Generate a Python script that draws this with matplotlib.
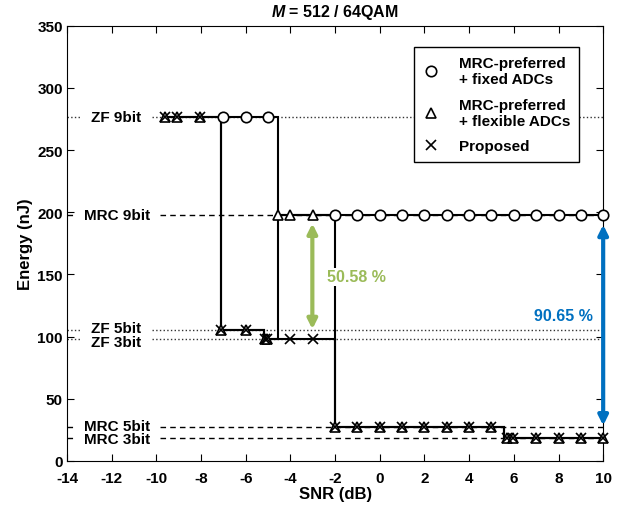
import matplotlib
matplotlib.use("Agg")
import matplotlib.pyplot as plt
from matplotlib.lines import Line2D

plt.rcParams["font.family"] = ["Liberation Sans", "DejaVu Sans"]
plt.rcParams["font.weight"] = "bold"
plt.rcParams["mathtext.fontset"] = "custom"
plt.rcParams["mathtext.it"] = "Liberation Sans:italic:bold"
plt.rcParams["axes.unicode_minus"] = False

# energy levels (nJ) of each receiver / ADC setting
level_names = ["ZF 9bit", "MRC 9bit", "ZF 5bit", "ZF 3bit", "MRC 5bit", "MRC 3bit"]
level_values = [277.0, 198.0, 105.5, 97.85, 27.2, 18.5]
level_styles = [":", "--", ":", ":", "--", "--"]

# step lines: switching SNRs (edges) and energy on each segment
fixed_edges = [-7.0, -4.54, 10.0]
fixed_energy = [277.0, 198.0]
flex_edges = [-9.6, -7.1, -5.17, -4.54, -2.0, 5.58, 10.0]
flex_energy = [277.0, 105.5, 97.85, 198.0, 27.2, 18.5]
prop_edges = [-9.6, -7.1, -5.17, -2.0, 5.58, 10.0]
prop_energy = [277.0, 105.5, 97.85, 27.2, 18.5]

# marker points
fixed_snr = [-7, -6, -5, -2, -1, 0, 1, 2, 3, 4, 5, 6, 7, 8, 9, 10]
fixed_pts = [277, 277, 277] + [198] * 13
flex_snr = [-9.6, -9.1, -8.04, -7.1, -6.0, -5.15, -5.05, -4.54, -4.0, -3.0,
            -2, -1, 0, 1, 2, 3, 4, 5, 5.68, 5.98, 7, 8, 9, 10]
flex_pts = [277] * 3 + [105.5] * 2 + [97.85] * 2 + [198] * 3 + [27.2] * 8 + [18.5] * 6
prop_snr = [-9.6, -9.1, -8.04, -7.1, -6.0, -5.15, -5.05, -4.0, -3.0,
            -2, -1, 0, 1, 2, 3, 4, 5, 5.68, 5.98, 7, 8, 9, 10]
prop_pts = [277] * 3 + [105.5] * 2 + [97.85] * 4 + [27.2] * 8 + [18.5] * 6

fig = plt.figure(figsize=(6.27, 5.06), dpi=100)
ax = fig.add_axes([0.107, 0.087, 0.855, 0.860])

# reference level lines, broken where the label sits
label_y = [277.0, 198.0, 107.3, 95.6, 27.8, 17.6]
for name, val, ls, ly in zip(level_names, level_values, level_styles, label_y):
    if ls == ":":
        gap = (-13.4, -10.2)
        kw = dict(colors="#333333", linestyles=":", linewidth=1.0)
        lx = -10.7
    else:
        gap = (-13.7, -9.85)
        kw = dict(colors="black", linestyles=(0, (4, 3)), linewidth=1.0)
        lx = -10.3
    ax.hlines([val, val], [-14, gap[1]], [gap[0], 10], zorder=1, **kw)
    ax.text(lx, ly, name, ha="right", va="center", fontsize=11, fontweight="bold", zorder=2)

# step lines
ax.stairs(fixed_energy, fixed_edges, baseline=None, color="black", linewidth=1.5, zorder=3)
ax.stairs(flex_energy, flex_edges, baseline=None, color="black", linewidth=1.5, zorder=3)
ax.stairs(prop_energy, prop_edges, baseline=None, color="black", linewidth=1.5, zorder=3)

# markers
ax.plot(fixed_snr, fixed_pts, linestyle="none", marker="o", markersize=7.5,
        markerfacecolor="white", markeredgecolor="black", markeredgewidth=1.2,
        zorder=5, clip_on=False)
ax.plot(flex_snr, flex_pts, linestyle="none", marker="^", markersize=7.5,
        markerfacecolor="white", markeredgecolor="black", markeredgewidth=1.2,
        zorder=6, clip_on=False)
ax.plot(prop_snr, prop_pts, linestyle="none", marker="x", markersize=7.5,
        markeredgecolor="black", markeredgewidth=1.2, zorder=7, clip_on=False)

# saving arrows
green = "#9BBB59"
blue = "#0070C0"
ax.annotate("", xy=(-3.02, 106), xytext=(-3.02, 191),
            arrowprops=dict(arrowstyle="<|-|>", color=green, lw=3, mutation_scale=14,
                            shrinkA=0, shrinkB=0), zorder=8)
ax.text(-1.05, 148, "50.58 %", color=green, fontsize=11.5, fontweight="bold",
        ha="center", va="center", zorder=8,
        bbox=dict(facecolor="white", edgecolor="none", pad=1))
ax.annotate("", xy=(10, 28.5), xytext=(10, 190),
            arrowprops=dict(arrowstyle="<|-|>", color=blue, lw=3, mutation_scale=14,
                            shrinkA=0, shrinkB=0), zorder=8)
ax.text(8.2, 117, "90.65 %", color=blue, fontsize=11.5, fontweight="bold",
        ha="center", va="center", zorder=8)

ax.set_xlim(-14, 10)
ax.set_ylim(0, 350)
ax.set_xticks(range(-14, 11, 2))
ax.set_yticks(range(0, 351, 50))
ax.tick_params(direction="in", top=True, right=True, length=5, labelsize=11)
ax.tick_params(axis="x", pad=7)
ax.tick_params(axis="y", pad=3)
for lab in ax.get_xticklabels() + ax.get_yticklabels():
    lab.set_fontweight("bold")

ax.set_xlabel("SNR (dB)", fontsize=12, fontweight="bold", labelpad=1)
ax.set_ylabel("Energy (nJ)", fontsize=12, fontweight="bold", labelpad=3)
ax.set_title("$M$ = 512 / 64QAM", fontsize=11.5, fontweight="bold", pad=7)

handles = [
    Line2D([], [], linestyle="none", marker="o", markersize=7.5, markerfacecolor="white",
           markeredgecolor="black", markeredgewidth=1.2),
    Line2D([], [], linestyle="none", marker="^", markersize=7.5, markerfacecolor="white",
           markeredgecolor="black", markeredgewidth=1.2),
    Line2D([], [], linestyle="none", marker="x", markersize=7.5, markeredgecolor="black",
           markeredgewidth=1.2),
]
labels = ["MRC-preferred\n+ fixed ADCs", "MRC-preferred\n+ flexible ADCs", "Proposed"]
leg = ax.legend(handles, labels, loc="upper right", bbox_to_anchor=(0.955, 0.952),
                borderaxespad=0, fancybox=False, edgecolor="black", framealpha=1,
                prop={"weight": "bold", "size": 11}, handletextpad=1.3,
                handlelength=1.0, labelspacing=0.75, borderpad=0.6)
leg.get_frame().set_linewidth(1.0)
leg.set_zorder(10)

fig.savefig("out.png", dpi=100)
